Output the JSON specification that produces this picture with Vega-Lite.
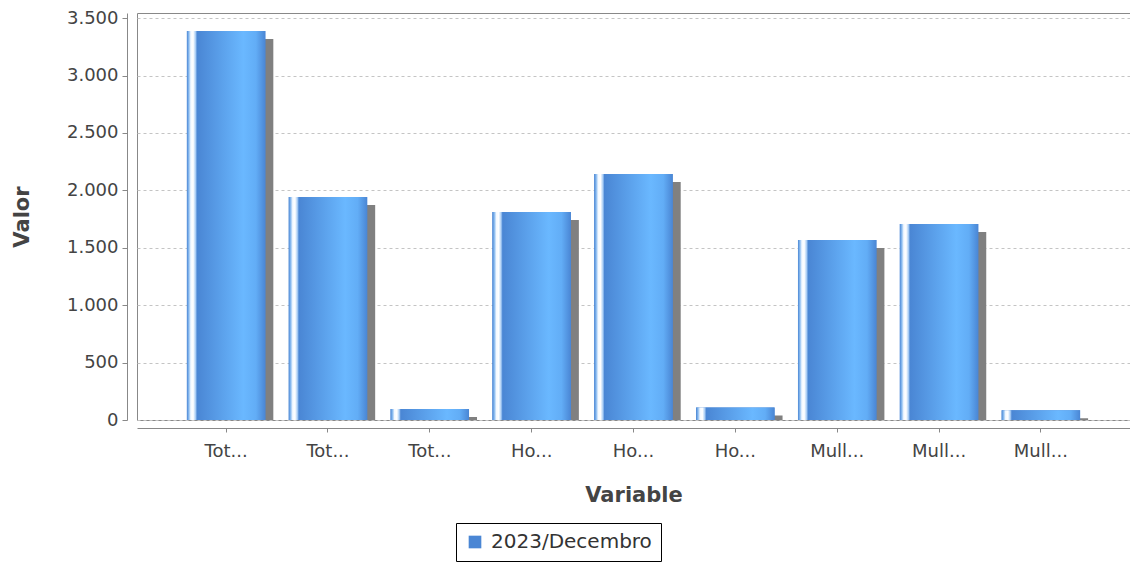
{
  "$schema": "https://vega.github.io/schema/vega-lite/v6.json",
  "width": 993,
  "height": 407,
  "autosize": {"type": "none"},
  "padding": {"left": 137, "top": 13, "right": 0, "bottom": 142},
  "background": "white",
  "config": {
    "view": {"stroke": "#888888", "strokeWidth": 1},
    "font": "DejaVu Sans"
  },
  "data": {
    "values": [
      {"variable": "Total A", "serie": "2023/Decembro", "valor": 3389},
      {"variable": "Total B", "serie": "2023/Decembro", "valor": 1942},
      {"variable": "Total C", "serie": "2023/Decembro", "valor": 96},
      {"variable": "Homes A", "serie": "2023/Decembro", "valor": 1812},
      {"variable": "Homes B", "serie": "2023/Decembro", "valor": 2143},
      {"variable": "Homes C", "serie": "2023/Decembro", "valor": 108},
      {"variable": "Mulleres A", "serie": "2023/Decembro", "valor": 1568},
      {"variable": "Mulleres B", "serie": "2023/Decembro", "valor": 1707},
      {"variable": "Mulleres C", "serie": "2023/Decembro", "valor": 85}
    ]
  },
  "encoding": {
    "x": {
      "field": "variable",
      "type": "nominal",
      "sort": null,
      "scale": {"paddingInner": 0.23, "paddingOuter": 0.49},
      "axis": {
        "title": "Variable",
        "labelAngle": 0,
        "offset": 8,
        "tickSize": 4,
        "tickColor": "#888888",
        "domainColor": "#888888",
        "labelFontSize": 18,
        "labelColor": "#444444",
        "labelPadding": 10,
        "labelExpr": "indexof(datum.value,'Total')==0 ? 'Tot...' : indexof(datum.value,'Homes')==0 ? 'Ho...' : 'Mull...'",
        "titleFontSize": 21,
        "titleFontWeight": "bold",
        "titleColor": "#444444",
        "titlePadding": 24
      }
    },
    "y": {
      "field": "valor",
      "type": "quantitative",
      "scale": {"domain": [0, 3545], "nice": false},
      "axis": {
        "title": "Valor",
        "values": [0, 500, 1000, 1500, 2000, 2500, 3000, 3500],
        "offset": 10,
        "tickSize": 5,
        "tickColor": "#888888",
        "domainColor": "#888888",
        "labelFontSize": 18,
        "labelColor": "#444444",
        "labelPadding": 4,
        "labelExpr": "replace(format(datum.value, ','), ',', '.')",
        "grid": true,
        "gridColor": "#c4c4c4",
        "gridDash": [3, 3],
        "gridWidth": 1,
        "titleFontSize": 21,
        "titleFontWeight": "bold",
        "titleColor": "#444444",
        "titlePadding": 34
      }
    }
  },
  "layer": [
    {
      "mark": {"type": "bar", "color": "#808080", "xOffset": 8, "yOffset": 8, "clip": true}
    },
    {
      "mark": {"type": "bar"},
      "encoding": {
        "fill": {
          "field": "serie",
          "type": "nominal",
          "scale": {"range": ["#4a86d4"]},
          "legend": {
            "title": null,
            "orient": "none",
            "legendX": 319,
            "legendY": 510,
            "strokeColor": "#000000",
            "fillColor": "#ffffff",
            "padding": 9,
            "symbolType": "square",
            "symbolSize": 160,
            "symbolStrokeWidth": 0,
            "labelFontSize": 20,
            "labelLimit": 400,
            "labelColor": "#333333",
            "labelOffset": 6
          }
        }
      }
    },
    {
      "mark": {
        "type": "bar",
        "color": {
          "gradient": "linear",
          "x1": 0, "y1": 0, "x2": 1, "y2": 0,
          "stops": [
            {"offset": 0, "color": "#4a86d4"},
            {"offset": 0.025, "color": "#8bbcf0"},
            {"offset": 0.05, "color": "#f4f9ff"},
            {"offset": 0.08, "color": "#ffffff"},
            {"offset": 0.11, "color": "#a9cdf5"},
            {"offset": 0.13, "color": "#4a86d4"},
            {"offset": 0.72, "color": "#6ab8ff"},
            {"offset": 0.88, "color": "#62adf6"},
            {"offset": 1, "color": "#4a86d4"}
          ]
        }
      }
    }
  ]
}
